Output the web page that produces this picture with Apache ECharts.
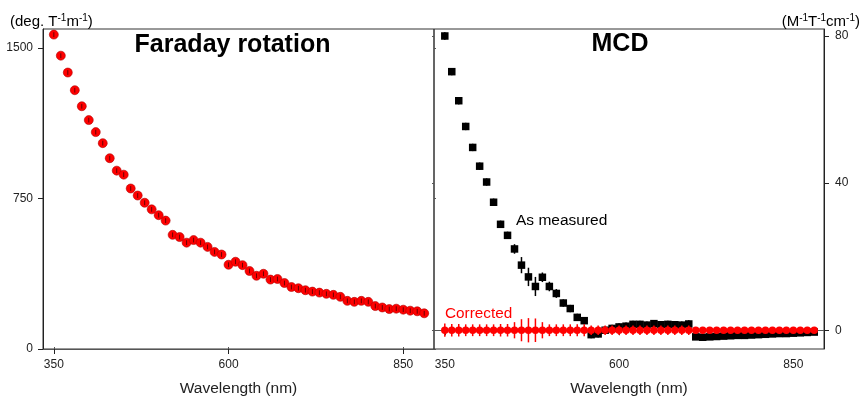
<!DOCTYPE html>
<html>
<head>
<meta charset="utf-8">
<script src="https://cdn.jsdelivr.net/npm/echarts@6/dist/echarts.min.js"></script>
<style>
html,body{margin:0;padding:0;background:#fff;}
#chart{width:862px;height:402px;}
</style>
</head>
<body>
<div id="chart"></div>
<script>
// ---------------- DATA ----------------
const wavelengths = [350,360,370,380,390,400,410,420,430,440,450,460,470,480,490,500,510,520,530,540,550,560,570,580,590,600,
  610,620,630,640,650,660,670,680,690,700,710,720,730,740,750,760,770,780,790,800,810,820,830,840,850,860,870,880];

// Faraday rotation (deg T^-1 m^-1)
const faraday = [1567,1462,1378,1290,1210,1141,1081,1026,951,889,869,800,765,729,696,667,640,569,558,530,543,530,509,484,471,420,
  435,418,389,365,375,346,349,329,309,303,293,286,281,275,270,260,240,235,240,235,214,207,199,201,196,191,188,178];
const faradayErr = [12,12,12,12,12,12,12,12,12,12,12,12,12,12,12,12,12,12,12,12,12,12,12,12,12,12,
  12,12,12,12,12,12,12,12,12,12,12,12,12,12,12,12,12,12,12,12,12,12,12,12,12,12,12,12];

// MCD (M^-1 T^-1 cm^-1)
const mcdMeasured = [80.0,70.3,62.4,55.4,49.7,44.6,40.3,34.8,28.8,25.8,22.1,17.7,14.5,11.9,14.4,11.9,10.0,7.4,5.9,3.5,2.6,-1.2,-1.0,0.0,0.5,0.9,
  1.1,1.6,1.6,1.4,1.8,1.5,1.6,1.5,1.4,1.7,-1.8,-1.9,-1.8,-1.7,-1.6,-1.5,-1.4,-1.4,-1.3,-1.2,-1.1,-1.0,-0.9,-0.9,-0.8,-0.7,-0.6,-0.5];
const mcdMeasuredErr = [1.0,1.0,1.0,1.0,1.0,1.0,1.0,1.0,1.0,1.0,1.3,2.2,2.5,2.6,1.3,1.3,1.2,1.0,1.0,1.0,1.0,1.0,1.0,1.0,1.0,1.0,
  1.0,1.0,1.0,1.0,1.0,1.0,1.0,1.0,1.0,1.0,0.6,0.6,0.6,0.6,0.6,0.6,0.6,0.6,0.6,0.6,0.6,0.6,0.6,0.6,0.6,0.6,0.6,0.6];
const mcdCorrected = [0,0,0,0,0,0,0,0,0,0,0,0,0,0,0,0,0,0,0,0,0,0,0,0,0,0,
  0,0,0,0,0,0,0,0,0,0,0,0,0,0,0,0,0,0,0,0,0,0,0,0,0,0,0,0];
const mcdCorrectedErr = [1.8,1.7,1.7,1.6,1.6,1.6,1.6,1.6,1.7,1.7,2.2,3.0,3.3,3.2,2.2,1.6,1.6,1.6,1.6,1.6,1.6,1.3,1.3,1.3,1.3,1.3,
  1.3,1.3,1.3,1.3,1.3,1.3,1.3,1.3,1.3,1.3,0.7,0.7,0.7,0.7,0.7,0.7,0.7,0.7,0.7,0.7,0.7,0.7,0.7,0.7,0.7,0.7,0.7,0.7];

const xTicks = [350, 600, 850];
const faradayTicks = [0, 750, 1500];
const mcdTicks = [0, 40, 80];

// ---------------- CHART ----------------
const FONT = '"Liberation Sans", Arial, Helvetica, sans-serif';
const AXC = '#222';
const chart = echarts.init(document.getElementById('chart'), null, {renderer: 'canvas'});
const plain = v => String(v);

function pts(vals){ return wavelengths.map((w,i)=>[w, vals[i]]); }
function errData(vals, errs){ return wavelengths.map((w,i)=>[w, vals[i]-errs[i], vals[i]+errs[i]]); }
function errSeries(xi, yi, vals, errs, color, width, z){
  return {
    type: 'custom', xAxisIndex: xi, yAxisIndex: yi, z: z, silent: true,
    data: errData(vals, errs),
    encode: {x: 0, y: [1, 2]},
    renderItem: function(params, api){
      const x = api.value(0);
      const p1 = api.coord([x, api.value(1)]);
      const p2 = api.coord([x, api.value(2)]);
      return {type: 'line', shape: {x1: p1[0], y1: p1[1], x2: p2[0], y2: p2[1]},
              style: {stroke: color, lineWidth: width}};
    }
  };
}

function xAxisMain(gi){
  return {
    type: 'value', gridIndex: gi, min: 334.5, max: 894, position: 'bottom',
    axisLine: {show: true, lineStyle: {color: AXC, width: 1}},
    axisTick: {show: true, length: 5, lineStyle: {color: AXC}, customValues: xTicks},
    axisLabel: {show: true, fontSize: 12, color: AXC, fontFamily: FONT, margin: 10, customValues: xTicks, formatter: plain},
    splitLine: {show: false},
    name: 'Wavelength (nm)', nameLocation: 'middle', nameGap: 32,
    nameTextStyle: {fontSize: 15.5, color: AXC, fontFamily: FONT}
  };
}
function xAxisMirror(gi){
  return {
    type: 'value', gridIndex: gi, min: 334.5, max: 894, position: 'top',
    axisLine: {show: true, lineStyle: {color: '#555', width: 1}},
    axisTick: {show: true, length: 2, lineStyle: {color: '#555'}, customValues: xTicks},
    axisLabel: {show: false}, splitLine: {show: false}
  };
}

const option = {
  animation: false,
  backgroundColor: '#fff',
  grid: [
    {left: 43, top: 29, width: 391, height: 323, show: true, borderColor: '#333', borderWidth: 1},
    {left: 434, top: 29, width: 390, height: 323, show: true, borderColor: '#333', borderWidth: 1}
  ],
  xAxis: [xAxisMain(0), xAxisMain(1), xAxisMirror(0), xAxisMirror(1)],
  yAxis: [
    {
      type: 'value', gridIndex: 0, min: 0, max: 1595, position: 'left',
      axisLine: {show: true, lineStyle: {color: AXC}},
      axisTick: {show: true, length: 5, lineStyle: {color: AXC}, customValues: faradayTicks},
      axisLabel: {fontSize: 12, color: AXC, fontFamily: FONT, margin: 10, customValues: faradayTicks, formatter: plain},
      splitLine: {show: false}
    },
    {
      type: 'value', gridIndex: 1, min: -5.1, max: 81.9, position: 'right',
      axisLine: {show: true, lineStyle: {color: AXC}},
      axisTick: {show: true, length: 5, lineStyle: {color: AXC}, customValues: mcdTicks},
      axisLabel: {fontSize: 12, color: AXC, fontFamily: FONT, margin: 11, customValues: mcdTicks, formatter: plain},
      splitLine: {show: false}
    },
    {
      type: 'value', gridIndex: 0, min: 0, max: 1595, position: 'right',
      axisLine: {show: false},
      axisTick: {show: true, length: 2, lineStyle: {color: '#555'}, customValues: faradayTicks},
      axisLabel: {show: false}, splitLine: {show: false}
    },
    {
      type: 'value', gridIndex: 1, min: -5.1, max: 81.9, position: 'left',
      axisLine: {show: false},
      axisTick: {show: true, length: 2, lineStyle: {color: '#555'}, customValues: mcdTicks},
      axisLabel: {show: false}, splitLine: {show: false}
    }
  ],
  series: [
    {
      type: 'scatter', xAxisIndex: 0, yAxisIndex: 0, z: 2,
      data: pts(faraday), symbol: 'circle', symbolSize: 9,
      itemStyle: {color: '#ff0000', borderColor: '#b00000', borderWidth: 0.6, opacity: 1}
    },
    errSeries(0, 0, faraday, faradayErr, '#6a0000', 1, 3),
    errSeries(1, 1, mcdMeasured, mcdMeasuredErr, '#000000', 1.5, 2),
    {
      type: 'scatter', xAxisIndex: 1, yAxisIndex: 1, z: 3,
      data: pts(mcdMeasured), symbol: 'rect', symbolSize: 7.5,
      itemStyle: {color: '#000000', opacity: 1}
    },
    errSeries(1, 1, mcdCorrected, mcdCorrectedErr, '#ff0000', 1.5, 4),
    {
      type: 'scatter', xAxisIndex: 1, yAxisIndex: 1, z: 5,
      data: pts(mcdCorrected), symbol: 'circle', symbolSize: 7.5,
      itemStyle: {color: '#ff0000', opacity: 1}
    }
  ],
  graphic: [
    {type: 'text', x: 232.5, y: 45, z: 10, style: {text: 'Faraday rotation', font: 'bold 25px ' + FONT, fill: '#000', align: 'center', verticalAlign: 'middle'}},
    {type: 'text', x: 620, y: 44, z: 10, style: {text: 'MCD', font: 'bold 25px ' + FONT, fill: '#000', align: 'center', verticalAlign: 'middle'}},
    {type: 'text', x: 516, y: 221, z: 10, style: {text: 'As measured', font: '15.5px ' + FONT, fill: '#000', align: 'left', verticalAlign: 'middle'}},
    {type: 'text', x: 445, y: 313.5, z: 10, style: {text: 'Corrected', font: '15.3px ' + FONT, fill: '#ff0000', align: 'left', verticalAlign: 'middle'}},
    {type: 'text', x: 10, y: 13.5, z: 10, style: {
      text: '{n|(deg. T}{s|-1}{n|m}{s|-1}{n|)}', align: 'left', verticalAlign: 'top',
      rich: {
        n: {fontSize: 15, fontFamily: FONT, fill: '#000', lineHeight: 16},
        s: {fontSize: 10, fontFamily: FONT, fill: '#000', lineHeight: 10, verticalAlign: 'top'}
      }}},
    {type: 'text', x: 860, y: 13.5, z: 10, style: {
      text: '{n|(M}{s|-1}{n|T}{s|-1}{n|cm}{s|-1}{n|)}', align: 'right', verticalAlign: 'top',
      rich: {
        n: {fontSize: 15, fontFamily: FONT, fill: '#000', lineHeight: 16},
        s: {fontSize: 10, fontFamily: FONT, fill: '#000', lineHeight: 10, verticalAlign: 'top'}
      }}}
  ]
};
chart.setOption(option);
</script>
</body>
</html>
